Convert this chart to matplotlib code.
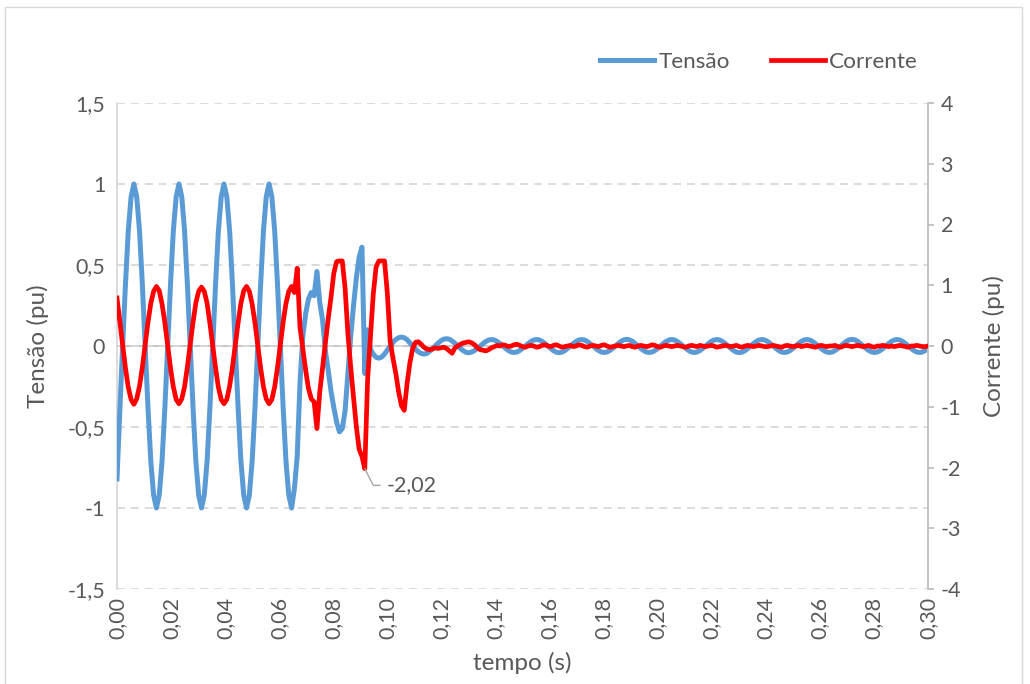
import matplotlib.pyplot as plt
import numpy as np
from matplotlib.patches import Rectangle

plt.rcParams['font.family'] = ['Lato', 'DejaVu Sans']

# amostras a cada 1/960 s (16 pontos por ciclo de 60 Hz)
taxa = 960

# tensao em pu (eixo esquerdo)
tensao = [
    -0.82, -0.40, 0.00, 0.38, 0.71, 0.92, 1.00, 0.92, 0.71, 0.38, 0.00, -0.38, -0.71, -0.92, -1.00, -0.92,
    -0.71, -0.38, 0.00, 0.38, 0.71, 0.92, 1.00, 0.92, 0.71, 0.38, 0.00, -0.38, -0.71, -0.92, -1.00, -0.92,
    -0.71, -0.38, 0.00, 0.38, 0.71, 0.92, 1.00, 0.92, 0.71, 0.38, 0.00, -0.38, -0.71, -0.92, -1.00, -0.92,
    -0.71, -0.38, 0.00, 0.38, 0.71, 0.92, 1.00, 0.92, 0.71, 0.38, 0.00, -0.38, -0.71, -0.92, -1.00,
    # falta
    -0.88, -0.68, -0.22, 0.06, 0.20, 0.29, 0.33, 0.31, 0.46, 0.27, 0.16, -0.03, -0.15, -0.28, -0.38,
    -0.47, -0.53, -0.51, -0.40, -0.17, 0.06, 0.25, 0.42, 0.55, 0.61, -0.17, 0.10, -0.02, -0.05, -0.07,
    # apos abertura
    -0.075, -0.068, -0.050, -0.025, 0.000, 0.022, 0.040, 0.051, 0.055,
    0.051, 0.039, 0.020, 0.000, -0.020, -0.036, -0.046, -0.050,
    -0.046, -0.033, -0.018, 0.000, 0.017, 0.032, 0.042, 0.045,
    0.042, 0.031, 0.017, 0.000, -0.016, -0.030, -0.039, -0.042,
    -0.037, -0.028, -0.015, 0.000, 0.015, 0.028, 0.037, 0.040,
    0.037, 0.028, 0.015, 0.000, -0.015, -0.028, -0.037, -0.040, -0.037, -0.028, -0.015, 0.000, 0.015, 0.028, 0.037, 0.040,
    0.037, 0.028, 0.015, 0.000, -0.015, -0.029, -0.038, -0.041, -0.038, -0.029, -0.015, 0.000, 0.015, 0.028, 0.037, 0.040,
    0.037, 0.028, 0.015, 0.000, -0.015, -0.028, -0.037, -0.040, -0.037, -0.028, -0.015, 0.000, 0.015, 0.029, 0.038, 0.041,
    0.038, 0.029, 0.015, 0.000, -0.015, -0.028, -0.037, -0.040, -0.037, -0.028, -0.015, 0.000, 0.015, 0.028, 0.037, 0.040,
    0.037, 0.028, 0.015, 0.000, -0.015, -0.028, -0.037, -0.040, -0.037, -0.028, -0.015, 0.000, 0.015, 0.028, 0.037, 0.040,
    0.037, 0.028, 0.015, 0.000, -0.015, -0.029, -0.038, -0.041, -0.038, -0.029, -0.015, 0.000, 0.015, 0.028, 0.037, 0.040,
    0.037, 0.028, 0.015, 0.000, -0.015, -0.028, -0.037, -0.040, -0.037, -0.028, -0.015, 0.000, 0.015, 0.028, 0.037, 0.040,
    0.037, 0.028, 0.015, 0.000, -0.015, -0.028, -0.037, -0.040, -0.037, -0.028, -0.015, 0.000, 0.015, 0.029, 0.038, 0.041,
    0.038, 0.029, 0.015, 0.000, -0.015, -0.028, -0.037, -0.040, -0.037, -0.028, -0.015, 0.000, 0.015, 0.028, 0.037, 0.040,
    0.037, 0.028, 0.015, 0.000, -0.015, -0.028, -0.037, -0.040, -0.037, -0.028, -0.015,
]

# corrente em pu (eixo direito)
corrente = [
    0.79, 0.40, 0.02, -0.36, -0.68, -0.88, -0.96, -0.87, -0.66, -0.35, 0.02, 0.39, 0.70, 0.90, 0.98, 0.91,
    0.69, 0.38, 0.01, -0.36, -0.67, -0.88, -0.95, -0.87, -0.67, -0.34, 0.02, 0.39, 0.71, 0.90, 0.97, 0.90,
    0.70, 0.37, 0.00, -0.36, -0.68, -0.88, -0.95, -0.88, -0.66, -0.35, 0.02, 0.38, 0.70, 0.91, 0.98, 0.90,
    0.69, 0.38, 0.01, -0.36, -0.67, -0.87, -0.95, -0.88, -0.67, -0.35, 0.02, 0.39, 0.70, 0.90, 0.98,
    # falta
    0.88, 1.28, 0.30, -0.05, -0.40, -0.70, -0.87, -0.92, -1.36, -0.76, -0.35, 0.05, 0.45, 0.80, 1.20,
    1.39, 1.40, 1.40, 0.95, 0.20, -0.35, -0.85, -1.33, -1.70, -1.82, -2.02, -0.55, 0.15, 0.85, 1.30,
    1.40, 1.40, 1.40, 0.87, 0.08, -0.20, -0.45, -0.75, -0.98, -1.06, -0.62, -0.28, -0.04,
    # apos abertura
    0.06, 0.07, 0.03, -0.02, -0.05, -0.06, -0.05, -0.03, -0.04, -0.03, -0.02, -0.04, -0.08, -0.12, -0.03,
    0.00, 0.03, 0.05, 0.06, 0.07, 0.05, 0.02, -0.03, -0.06, -0.07, -0.08, -0.06, -0.03, -0.01, 0.01,
    0.00, 0.02, 0.01, -0.01, 0.00, 0.02, 0.03, 0.01, -0.01, -0.02, 0.00, 0.01, 0.00, -0.02, -0.01, 0.01,
    0.02, 0.00, -0.01, 0.01, 0.02, 0.00, -0.02, -0.01, 0.00, 0.01, -0.01, 0.00, 0.02, 0.01, -0.01, -0.02,
    0.00, 0.01, 0.00, -0.01, 0.01, 0.02, 0.00, -0.02, -0.01, 0.00, 0.01, 0.00, -0.01, 0.00, 0.01, -0.01,
    -0.02, 0.00, 0.01, 0.00, -0.01, 0.00, 0.02, 0.01, -0.01, -0.02, 0.00, 0.01, 0.00, -0.01, 0.00, 0.01,
    0.00, -0.01, -0.02, 0.00, 0.01, 0.00, -0.01, 0.01, 0.00, -0.01, 0.00, 0.01, 0.00, -0.02, -0.01, 0.00,
    0.01, 0.00, -0.01, 0.00, 0.01, -0.01, -0.02, 0.00, 0.01, 0.00, -0.01, 0.00, 0.01, 0.00, -0.01, -0.01,
    0.00, 0.01, 0.00, -0.01, -0.02, 0.00, 0.01, 0.00, -0.01, 0.00, 0.01, -0.01, 0.00, 0.01, 0.00, -0.01,
    -0.02, 0.00, 0.01, 0.00, -0.01, 0.00, 0.00, 0.01, -0.01, -0.02, 0.00, 0.01, 0.00, -0.01, 0.00, 0.01,
    0.00, -0.01, 0.00, 0.01, -0.01, -0.02, 0.00, 0.00, 0.01, 0.00, -0.01, 0.00, -0.01, 0.00, 0.01, 0.00,
    -0.01, -0.02, 0.00, 0.00, 0.01, 0.00, -0.01, -0.01, 0.00,
]

ticks_tempo = [0.00, 0.02, 0.04, 0.06, 0.08, 0.10, 0.12, 0.14, 0.16, 0.18, 0.20, 0.22, 0.24, 0.26, 0.28, 0.30]
ticks_tensao = [-1.5, -1, -0.5, 0, 0.5, 1, 1.5]
ticks_corrente = [-4, -3, -2, -1, 0, 1, 2, 3, 4]

tempo = np.arange(len(tensao)) / taxa

cinza_txt = '#595959'
azul = '#5B9BD5'
vermelho = '#FF0000'


def virgula(v, casas=None):
    if casas is None:
        s = f"{v:g}"
    else:
        s = f"{v:.{casas}f}"
    return s.replace('.', ',')


fig = plt.figure(figsize=(10.30, 6.84), dpi=100)
fig.patch.set_facecolor('white')
ax = fig.add_axes([117 / 1030, 1 - 589 / 684, 811 / 1030, 486 / 684])
ax2 = ax.twinx()

l1, = ax.plot(tempo, tensao, color=azul, lw=3.6, solid_joinstyle='round', zorder=3)
l2, = ax2.plot(tempo, corrente, color=vermelho, lw=3.4, solid_joinstyle='round', zorder=3)

ax.set_xlim(0, 0.30)
ax.set_ylim(-1.5, 1.5)
ax2.set_ylim(-4, 4)

ax.set_yticks(ticks_tensao)
ax.set_yticklabels([virgula(v) for v in ticks_tensao])
ax2.set_yticks(ticks_corrente)
ax2.set_yticklabels([virgula(v) for v in ticks_corrente])
ax.set_xticks(ticks_tempo)
ax.set_xticklabels([virgula(v, 2) for v in ticks_tempo], rotation=90)

ax.grid(axis='y', color='#d9d9d9', lw=1.3, linestyle=(0, (4.4, 3.3)))
ax.axhline(0, color='#bfbfbf', lw=1.3, zorder=1)

for s in ['top', 'bottom', 'right']:
    ax.spines[s].set_visible(False)
for s in ['top', 'bottom', 'left']:
    ax2.spines[s].set_visible(False)
ax.spines['left'].set_color('#d9d9d9')
ax.spines['left'].set_linewidth(1.3)
ax2.spines['right'].set_color('#bfbfbf')
ax2.spines['right'].set_linewidth(1.3)

ax.tick_params(axis='y', length=0, pad=8.5, labelsize=15.5, labelcolor=cinza_txt)
ax.tick_params(axis='x', length=0, pad=6, labelsize=15.5, labelcolor=cinza_txt)
ax2.tick_params(axis='y', direction='out', length=4, width=1.3, color='#bfbfbf',
                pad=5, labelsize=15.5, labelcolor=cinza_txt)

ax.set_xlabel('tempo (s)', fontsize=17.5, color=cinza_txt)
ax.xaxis.set_label_coords(0.5, -0.13)
ax.set_ylabel('Tensão (pu)', fontsize=17.5, color=cinza_txt)
ax.yaxis.set_label_coords(-0.084, 0.5)
ax2.set_ylabel('Corrente (pu)', fontsize=17.5, color=cinza_txt)
ax2.yaxis.set_label_coords(1.068, 0.5)

# rotulo do minimo da corrente
i_min = int(np.argmin(corrente))
ax2.annotate(virgula(corrente[i_min], 2), xy=(tempo[i_min], corrente[i_min]),
             xytext=(16, -12), textcoords='offset points', ha='left', va='center',
             fontsize=15.5, color=cinza_txt,
             arrowprops=dict(arrowstyle='-', color='#a6a6a6', lw=1, shrinkA=3, shrinkB=0,
                             relpos=(0, 0.5),
                             connectionstyle='angle,angleA=0,angleB=-63,rad=0'))

fig.legend(handles=[l1, l2], labels=['Tensão', 'Corrente'], ncol=2, frameon=False,
           loc='center right', bbox_to_anchor=(918 / 1030, 1 - 62 / 684),
           fontsize=16.2, handlelength=2.4, handletextpad=0.2, columnspacing=1.8,
           borderpad=0, borderaxespad=0, labelcolor=cinza_txt)

fig.add_artist(Rectangle((5 / 1030, -0.01), 1017 / 1030, 677 / 684 + 0.01,
                         transform=fig.transFigure, fill=False,
                         edgecolor='#d9d9d9', lw=1))

fig.savefig('out.png', dpi=100)
